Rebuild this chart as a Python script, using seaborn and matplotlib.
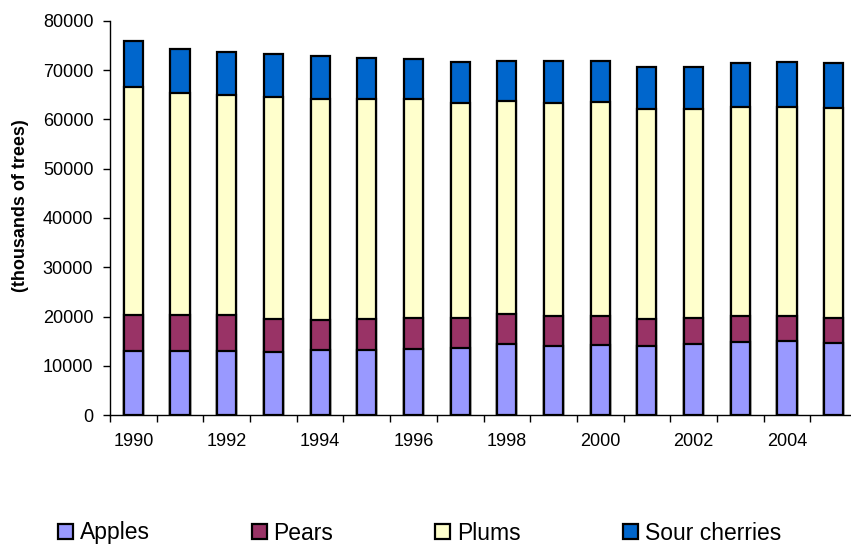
import numpy as np
import pandas as pd
import matplotlib
matplotlib.use("Agg")
import matplotlib.pyplot as plt
from matplotlib.patches import Patch
import seaborn as sns

# Fruit tree numbers by year (thousands of trees)
years = [str(y) for y in range(1990, 2006)]
apples = [12900, 12950, 12950, 12800, 13100, 13100, 13450, 13650,
          14450, 14100, 14300, 14100, 14500, 14800, 15000, 14700]
pears = [7330, 7260, 7260, 6780, 6240, 6440, 6250, 6040,
         6110, 5910, 5840, 5430, 5160, 5230, 5020, 4960]
plums = [46400, 45260, 44850, 44930, 44920, 44720, 44440, 43700,
         43220, 43290, 43360, 42690, 42550, 42470, 42610, 42750]
sour_cherries = [9240, 8820, 8550, 8750, 8610, 8280, 8140, 8270,
                 8140, 8480, 8280, 8470, 8470, 8890, 9020, 9080]

series_names = ["Apples", "Pears", "Plums", "Sour cherries"]
series_colors = ["#9999FF", "#993366", "#FFFFCC", "#0066CC"]

sns.set_theme(style="white")
plt.rcParams["font.family"] = ["Liberation Sans", "DejaVu Sans"]
plt.rcParams["text.color"] = "black"
plt.rcParams["xtick.color"] = "black"
plt.rcParams["ytick.color"] = "black"

df = pd.DataFrame({"year": years, "Apples": apples, "Pears": pears,
                   "Plums": plums, "Sour cherries": sour_cherries})
# cumulative heights for stacking
cum = df[series_names].cumsum(axis=1)

fig = plt.figure(figsize=(8.51, 5.46), dpi=100)
ax = fig.add_axes([110 / 851, 1 - 415 / 546, 747 / 851, 394 / 546])

# draw from the tallest stack down so each segment shows its own colour
for name, color in reversed(list(zip(series_names, series_colors))):
    sns.barplot(x=df["year"], y=cum[name], color=color, saturation=1,
                width=0.41, edgecolor="black", linewidth=1.6,
                errorbar=None, ax=ax)

ax.set_ylim(0, 80000)
ax.set_xlim(-0.5, len(years) - 0.5)
ax.set_yticks(np.arange(0, 80001, 10000))
ax.set_yticklabels([str(v) for v in range(0, 80001, 10000)], fontsize=13)
ax.set_xticks(range(0, len(years), 2))
ax.set_xticklabels(years[::2], fontsize=13)
ax.set_xticks(np.arange(-0.5, len(years), 1), minor=True)
ax.tick_params(axis="x", which="major", length=0, pad=13, labelcolor="black")
ax.tick_params(axis="x", which="minor", length=5, width=1, color="black",
               direction="out", bottom=True)
ax.tick_params(axis="y", length=5, width=1, color="black", direction="out",
               left=True, pad=7, labelcolor="black")
ax.set_xlabel("")
ax.set_ylabel("")
for side in ("top", "right"):
    ax.spines[side].set_visible(False)
for side in ("left", "bottom"):
    ax.spines[side].set_color("black")
    ax.spines[side].set_linewidth(1)

fig.text(21 / 851, 1 - 206 / 546, "(thousands of trees)", rotation=90,
         ha="center", va="center", fontsize=13, fontweight="bold",
         color="black")

handles = [Patch(facecolor=c, edgecolor="black", linewidth=1.6)
           for c in series_colors]
leg = fig.legend(handles, series_names, loc="center left",
                 bbox_to_anchor=(58 / 851, 1 - 533 / 546), ncol=4,
                 frameon=False, fontsize=16.5, handlelength=0.65,
                 handleheight=0.65, handletextpad=0.3, columnspacing=4.45,
                 borderpad=0, borderaxespad=0)
for t in leg.get_texts():
    t.set_color("black")

fig.savefig("out.png", dpi=100, facecolor="white")
